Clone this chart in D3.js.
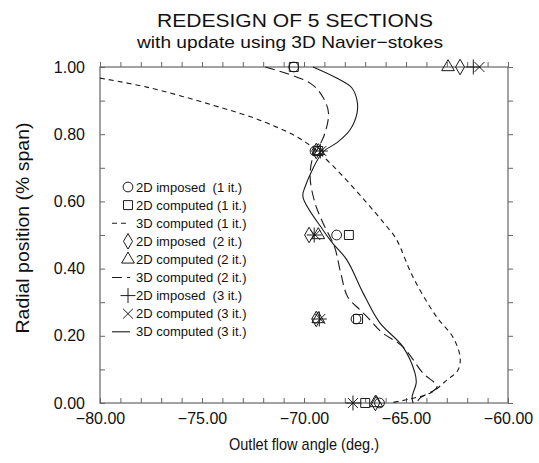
<meta charset="utf-8"/>
<html>
<head>
<script src="https://d3js.org/d3.v7.min.js"></script>
<style>
  body { margin: 0; background: #fff; }
  text { font-family: "Liberation Sans", Arial, Helvetica, sans-serif; fill: #111; }
</style>
</head>
<body>
<div id="chart"></div>
<script>
// 3D computed curves (angle in deg, radial position)
var it1Angle = [-80, -77.7, -74.5, -71.8, -69.6, -65.8, -65.45, -64.66, -63.5, -62.7, -62.35, -62.45, -63.0, -63.8, -64.8, -65.8];
var it1Pos   = [0.967, 0.94, 0.887, 0.833, 0.762, 0.515, 0.485, 0.375, 0.256, 0.196, 0.137, 0.098, 0.068, 0.03, 0.012, 0.0];

var it2Angle = [-71.9, -69.7, -69.07, -68.8, -68.97, -69.3, -69.56, -69.7, -69.46, -69.07, -68.5, -68.2, -67.85, -67.25, -66.76, -66.2, -65.15, -64.17, -63.48, -64.3, -64.5];
var it2Pos   = [1.0, 0.952, 0.91, 0.863, 0.804, 0.759, 0.732, 0.673, 0.595, 0.536, 0.464, 0.387, 0.315, 0.277, 0.247, 0.211, 0.167, 0.089, 0.048, 0.015, 0.0];

var it3Angle = [-69.56, -68.4, -67.65, -67.4, -67.4, -67.75, -68.4, -69.07, -69.95, -70.05, -69.07, -68.6, -67.9, -67.1, -66.3, -65.15, -64.56, -64.5, -64.7, -64.65];
var it3Pos   = [1.0, 0.967, 0.9375, 0.9, 0.863, 0.8125, 0.774, 0.747, 0.643, 0.613, 0.515, 0.476, 0.426, 0.327, 0.24, 0.167, 0.089, 0.06, 0.018, 0.0];

// 2D section markers at the five sections
var sections = [0.0, 0.25, 0.5, 0.75, 1.0];
var imposed1  = [-66.3, -67.45, -68.4, -69.46, -70.5];   // circle
var computed1 = [-67.0, -67.35, -67.8, -69.3, -70.5];    // square
var imposed2  = [-66.5, -69.4, -69.75, -69.4, -62.35];   // diamond
var computed2 = [-66.45, -69.3, -69.3, -69.3, -62.94];   // triangle
var imposed3  = [-67.6, -69.25, -69.5, -69.2, -61.7];    // plus
var computed3 = [-67.6, -69.2, -69.45, -69.15, -61.4];   // cross

var xTicks = [-80, -75, -70, -65, -60];
var yTicks = [0, 0.2, 0.4, 0.6, 0.8, 1.0];

var legendLabels = ["2D imposed  (1 it.)", "2D computed (1 it.)", "3D computed (1 it.)",
                    "2D imposed  (2 it.)", "2D computed (2 it.)", "3D computed (2 it.)",
                    "2D imposed  (3 it.)", "2D computed (3 it.)", "3D computed (3 it.)"];

var W = 539, H = 463;
var margin = {left: 100, top: 67, right: 31, bottom: 60};
var w = W - margin.left - margin.right, h = H - margin.top - margin.bottom;

var svg = d3.select("#chart").append("svg").attr("width", W).attr("height", H);
var g = svg.append("g").attr("transform", "translate(" + margin.left + "," + margin.top + ")");

var x = d3.scaleLinear().domain([-80, -60]).range([0, w]);
var y = d3.scaleLinear().domain([0, 1]).range([h, 0]);

var ink = "#1a1a1a";
var fmt = d3.format(".2f");

// inward ticks on all four sides
var minorX = d3.range(-80, -59.5, 1), minorY = d3.range(0, 1.001, 0.1);
function tickAxis(axis, vals) {
  return axis.tickValues(vals).tickSize(-5).tickFormat("");
}
g.append("g").attr("transform", "translate(0," + h + ")").call(tickAxis(d3.axisBottom(x), minorX));
g.append("g").call(tickAxis(d3.axisTop(x), minorX)).call(function (s) { s.selectAll(".tick line").attr("transform", "scale(1,-1)"); });
g.append("g").call(tickAxis(d3.axisLeft(y), minorY));
g.append("g").attr("transform", "translate(" + w + ",0)").call(tickAxis(d3.axisRight(y), minorY))
  .call(function (s) { s.selectAll(".tick line").attr("transform", "scale(-1,1)"); });
g.selectAll(".domain").remove();
g.selectAll(".tick line").attr("stroke", "#666");

// labels
g.append("g").attr("transform", "translate(0," + h + ")")
  .call(d3.axisBottom(x).tickValues(xTicks).tickSize(0).tickPadding(10).tickFormat(fmt))
  .call(function (s) { s.select(".domain").remove(); s.selectAll("text").attr("font-size", 16).attr("fill", ink); });
g.append("g")
  .call(d3.axisLeft(y).tickValues(yTicks).tickSize(0).tickPadding(15).tickFormat(fmt))
  .call(function (s) { s.select(".domain").remove(); s.selectAll("text").attr("font-size", 16).attr("fill", ink); });

g.append("rect").attr("width", w).attr("height", h).attr("fill", "none").attr("stroke", "#666").attr("stroke-width", 1.2);

// curves
var line = d3.line().curve(d3.curveCatmullRom.alpha(0.5));
function curve(a, p, dash) {
  g.append("path")
    .attr("d", line(a.map(function (v, i) { return [x(v), y(p[i])]; })))
    .attr("fill", "none").attr("stroke", ink).attr("stroke-width", 1.1)
    .attr("stroke-dasharray", dash);
}
var dash1 = "5,4", dash2 = "10,5", dash3 = null;
curve(it1Angle, it1Pos, dash1);
curve(it2Angle, it2Pos, dash2);
curve(it3Angle, it3Pos, dash3);

// markers
var sym = {
  circle: d3.symbol().type(d3.symbolCircle).size(75),
  square: d3.symbol().type(d3.symbolSquare).size(80),
  diamond: d3.symbol().type(d3.symbolDiamond).size(70),
  triangle: d3.symbol().type(d3.symbolTriangle).size(70),
  plus: d3.symbol().type(d3.symbolCross2 || d3.symbolPlus).size(75),
  times: d3.symbol().type(d3.symbolTimes || d3.symbolX).size(65)
};
function markers(vals, type) {
  g.selectAll(null).data(vals).enter().append("path")
    .attr("d", sym[type]())
    .attr("transform", function (d, i) { return "translate(" + x(d) + "," + y(sections[i]) + ")"; })
    .attr("fill", "none").attr("stroke", ink).attr("stroke-width", 1);
}
markers(imposed1, "circle");
markers(computed1, "square");
markers(imposed2, "diamond");
markers(computed2, "triangle");
markers(imposed3, "plus");
markers(computed3, "times");

// legend
var legendKeys = [{m: "circle"}, {m: "square"}, {d: dash1}, {m: "diamond"}, {m: "triangle"}, {d: dash2}, {m: "plus"}, {m: "times"}, {d: "solid"}];
var lg = g.append("g").attr("transform", "translate(12,120)");
legendKeys.forEach(function (k, i) {
  var row = lg.append("g").attr("transform", "translate(0," + (i * 18.1) + ")");
  if (k.m) {
    row.append("path").attr("d", sym[k.m]()).attr("transform", "translate(16,0)")
      .attr("fill", "none").attr("stroke", ink).attr("stroke-width", 1);
  } else {
    row.append("line").attr("x1", 0).attr("x2", 18).attr("y1", 0).attr("y2", 0)
      .attr("stroke", ink).attr("stroke-width", 1.1)
      .attr("stroke-dasharray", k.d === "solid" ? null : k.d);
  }
  row.append("text").attr("x", 24).attr("y", 4.5).attr("font-size", 13).attr("fill", ink)
    .style("white-space", "pre").text(legendLabels[i]);
});

// titles
svg.append("text").attr("x", 295).attr("y", 27).attr("text-anchor", "middle").attr("font-size", 19)
  .attr("textLength", 276).attr("lengthAdjust", "spacingAndGlyphs")
  .text("REDESIGN OF 5 SECTIONS");
svg.append("text").attr("x", 290).attr("y", 48).attr("text-anchor", "middle").attr("font-size", 17)
  .attr("textLength", 306).attr("lengthAdjust", "spacingAndGlyphs")
  .text("with update using 3D Navier\u2212stokes");
svg.append("text").attr("x", 304).attr("y", 450).attr("text-anchor", "middle").attr("font-size", 17)
  .attr("textLength", 150).attr("lengthAdjust", "spacingAndGlyphs")
  .text("Outlet flow angle (deg.)");
svg.append("text").attr("transform", "translate(29,228) rotate(-90)").attr("text-anchor", "middle").attr("font-size", 19)
  .attr("textLength", 211).attr("lengthAdjust", "spacingAndGlyphs")
  .text("Radial position (% span)");
</script>
</body>
</html>
